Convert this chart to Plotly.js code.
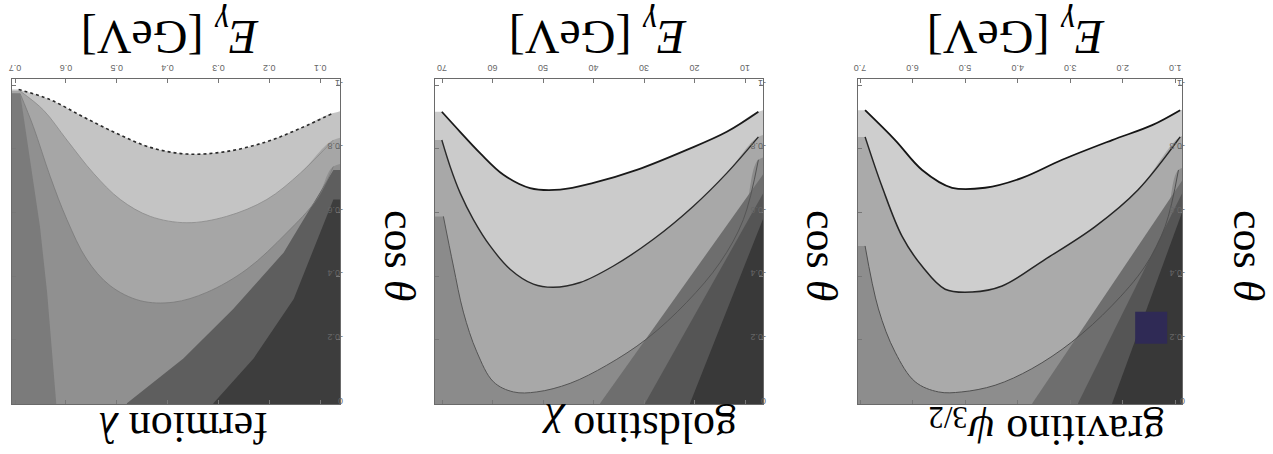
<!DOCTYPE html>
<html>
<head>
<meta charset="utf-8">
<script src="https://cdn.plot.ly/plotly-3.0.1.min.js"></script>
<style>
  html, body { margin: 0; padding: 0; background: #fff; }
  #chart { width: 1273px; height: 454px; }
</style>
</head>
<body>
<div id="chart"></div>
<script>
// Angular photon spectra (E_gamma vs cos theta) as filled contour levels,
// one panel per emitting particle. The figure is printed rotated by 180 degrees.

// ---- fermion λ panel ----
const fermA_E = [0.693, 0.631, 0.566, 0.500, 0.434, 0.362, 0.284, 0.205, 0.139, 0.074];
const fermA_c = [-0.987, -0.955, -0.901, -0.849, -0.805, -0.784, -0.792, -0.823, -0.865, -0.913];
const fermB_E = [0.690, 0.644, 0.598, 0.546, 0.493, 0.434, 0.362, 0.284, 0.205, 0.139, 0.074];
const fermB_c = [-0.982, -0.922, -0.828, -0.724, -0.641, -0.588, -0.568, -0.588, -0.641, -0.724, -0.828];
const fermC_E = [0.690, 0.664, 0.631, 0.598, 0.559, 0.513, 0.454, 0.389, 0.323, 0.244, 0.166, 0.107, 0.074];
const fermC_c = [-0.974, -0.870, -0.714, -0.578, -0.453, -0.370, -0.323, -0.318, -0.349, -0.422, -0.536, -0.641, -0.745];
const fermD_E = [0.690, 0.670, 0.651, 0.637, 0.627, 0.619];
const fermD_c = [-0.975, -0.766, -0.556, -0.350, -0.141, 0.0];
const fermBand1_E = [0.480, 0.369, 0.271, 0.172, 0.074];
const fermBand1_c = [0.0, -0.141, -0.297, -0.474, -0.734];
const fermBand2_E = [0.310, 0.231, 0.152, 0.074];
const fermBand2_c = [0.0, -0.141, -0.328, -0.641];

// ---- goldstino χ panel ----
const gold1_E = [70.05, 66.43, 62.47, 57.85, 52.57, 46.63, 40.03, 31.44, 21.55, 13.62, 7.36];
const gold1_c = [-0.917, -0.854, -0.787, -0.719, -0.677, -0.672, -0.693, -0.734, -0.797, -0.854, -0.917];
const gold2_E = [70.05, 68.41, 66.43, 63.80, 60.49, 56.53, 51.92, 47.96, 42.67, 36.08, 28.16, 20.24, 13.62, 7.36];
const gold2_c = [-0.828, -0.745, -0.662, -0.578, -0.495, -0.422, -0.375, -0.365, -0.380, -0.432, -0.516, -0.620, -0.724, -0.838];
const gold3_E = [69.74, 67.76, 65.78, 63.12, 59.84, 55.88, 51.25, 44.65, 37.38, 29.46, 21.55, 14.95, 10.34, 7.36];
const gold3_c = [-0.588, -0.432, -0.287, -0.162, -0.068, -0.036, -0.036, -0.063, -0.120, -0.203, -0.318, -0.443, -0.578, -0.766];
const goldBand1_E = [38.7, 6.45];
const goldBand1_c = [0.0, -0.72];
const goldBand2_E = [29.8, 6.45];
const goldBand2_c = [0.0, -0.66];
const goldBand3_E = [20.9, 6.45];
const goldBand3_c = [0.0, -0.58];

// ---- gravitino ψ3/2 panel ----
const grav1_E = [6.905, 6.333, 5.819, 5.248, 4.619, 3.914, 3.152, 2.200, 1.438, 0.905];
const grav1_c = [-0.922, -0.828, -0.734, -0.678, -0.678, -0.709, -0.766, -0.828, -0.875, -0.922];
const grav2_E = [6.905, 6.581, 6.200, 5.819, 5.381, 4.867, 4.295, 3.476, 2.524, 1.705, 0.905];
const grav2_c = [-0.838, -0.681, -0.525, -0.431, -0.359, -0.350, -0.369, -0.453, -0.556, -0.672, -0.838];
const grav3_E = [6.905, 6.651, 6.333, 5.952, 5.508, 5.063, 4.429, 3.730, 2.968, 2.206, 1.571, 1.190, 0.937];
const grav3_c = [-0.495, -0.297, -0.161, -0.068, -0.036, -0.036, -0.057, -0.109, -0.193, -0.307, -0.432, -0.557, -0.734];
const gravBand1_E = [3.72, 0.87];
const gravBand1_c = [0.0, -0.70];
const gravBand2_E = [2.85, 0.87];
const gravBand2_c = [0.0, -0.66];
const gravBand3_E = [2.20, 0.87];
const gravBand3_c = [0.0, -0.60];
const gravSpot_E = [1.457];
const gravSpot_c = [-0.2375];

// tick labels
const fermTicks = [0.1, 0.2, 0.3, 0.4, 0.5, 0.6, 0.7];
const goldTicks = [10, 20, 30, 40, 50, 60, 70];
const gravTicks = [1, 2, 3, 4, 5, 6, 7];
const cosTicks = [-1, -0.8, -0.6, -0.4, -0.2, 0];

// panel titles
const panelLabels = ['fermion <i>λ</i>', 'goldstino <i>χ</i>', 'gravitino <i>ψ</i><sub>3/2</sub>'];
const energyTitle = '<i>E</i><sub><i>γ</i></sub> [GeV]';
const angleTitle = 'cos <i>θ</i>';

// E ranges of each frame (drawn high-to-low because of the rotation)
const frames = [
  { lo: 0.061, hi: 0.706, xa: 'x', ya: 'y' },
  { lo: 6.45, hi: 71.4, xa: 'x2', ya: 'y2' },
  { lo: 0.87, hi: 7.04, xa: 'x3', ya: 'y3' }
];

const traces = [];

// region on the cos θ = 0 side of a level curve (smoothed outline)
function levelFill(E, c, f, color) {
  const d = (f.hi - f.lo) * 0.03, n = c.length;
  traces.push({
    x: E.concat([f.lo - d, f.lo - d, f.hi + d, f.hi + d]),
    y: c.concat([c[n - 1], 0.3, 0.3, c[0]]),
    xaxis: f.xa, yaxis: f.ya, mode: 'lines', fill: 'toself', fillcolor: color,
    line: { width: 0, shape: 'spline', smoothing: 1 }, hoverinfo: 'skip'
  });
}
// straight band running from the bottom edge to the low-E edge
function bandFill(E, c, f, color) {
  const d = (f.hi - f.lo) * 0.03, n = c.length;
  traces.push({
    x: E.concat([f.lo - d, f.lo - d, E[0]]),
    y: c.concat([c[n - 1], 0.3, 0.3]),
    xaxis: f.xa, yaxis: f.ya, mode: 'lines', fill: 'toself', fillcolor: color,
    line: { width: 0 }, hoverinfo: 'skip'
  });
}
// strip on the high-E side of a near-vertical level line
function highSideFill(E, c, f, color) {
  const d = (f.hi - f.lo) * 0.03, n = c.length;
  traces.push({
    x: E.concat([E[n - 1], f.hi + d, f.hi + d]),
    y: c.concat([0.3, 0.3, c[0]]),
    xaxis: f.xa, yaxis: f.ya, mode: 'lines', fill: 'toself', fillcolor: color,
    line: { width: 0 }, hoverinfo: 'skip'
  });
}
function levelLine(E, c, f, color, width, dash) {
  traces.push({
    x: E, y: c, xaxis: f.xa, yaxis: f.ya, mode: 'lines',
    line: { color: color, width: width, dash: dash || 'solid', shape: 'spline', smoothing: 1 },
    hoverinfo: 'skip'
  });
}

// fermion λ
levelFill(fermA_E, fermA_c, frames[0], '#c4c4c4');
levelFill(fermB_E, fermB_c, frames[0], '#a6a6a6');
levelFill(fermC_E, fermC_c, frames[0], '#909090');
highSideFill(fermD_E, fermD_c, frames[0], '#7b7b7b');
bandFill(fermBand1_E, fermBand1_c, frames[0], '#5e5e5e');
bandFill(fermBand2_E, fermBand2_c, frames[0], '#3d3d3d');
levelLine(fermA_E, fermA_c, frames[0], '#2a2a2a', 1.6, 'dot');
levelLine(fermB_E, fermB_c, frames[0], '#8a8a8a', 0.8);
levelLine(fermC_E, fermC_c, frames[0], '#7a7a7a', 0.8);

// goldstino χ
levelFill(gold1_E, gold1_c, frames[1], '#cbcbcb');
levelFill(gold2_E, gold2_c, frames[1], '#a8a8a8');
levelFill(gold3_E, gold3_c, frames[1], '#8b8b8b');
bandFill(goldBand1_E, goldBand1_c, frames[1], '#6e6e6e');
bandFill(goldBand2_E, goldBand2_c, frames[1], '#555555');
bandFill(goldBand3_E, goldBand3_c, frames[1], '#393939');
levelLine(gold1_E, gold1_c, frames[1], '#1a1a1a', 1.8);
levelLine(gold2_E, gold2_c, frames[1], '#2a2a2a', 1.4);
levelLine(gold3_E, gold3_c, frames[1], '#555555', 1.0);

// gravitino ψ3/2
levelFill(grav1_E, grav1_c, frames[2], '#cecece');
levelFill(grav2_E, grav2_c, frames[2], '#aaaaaa');
levelFill(grav3_E, grav3_c, frames[2], '#8d8d8d');
bandFill(gravBand1_E, gravBand1_c, frames[2], '#6e6e6e');
bandFill(gravBand2_E, gravBand2_c, frames[2], '#555555');
bandFill(gravBand3_E, gravBand3_c, frames[2], '#383838');
levelLine(grav1_E, grav1_c, frames[2], '#151515', 1.8);
levelLine(grav2_E, grav2_c, frames[2], '#252525', 1.5);
levelLine(grav3_E, grav3_c, frames[2], '#505050', 1.0);
traces.push({
  x: gravSpot_E, y: gravSpot_c, xaxis: 'x3', yaxis: 'y3', mode: 'markers',
  marker: { symbol: 'square', size: 32, color: '#2f2a55', line: { width: 0 } },
  hoverinfo: 'skip'
});

const W = 1273, H = 454;
const px = v => v / W, py = v => 1 - v / H;
const yDom = [py(404), py(79)];

function xAxis(f, dom, ticks, fmt) {
  return {
    domain: dom, range: [f.hi, f.lo], anchor: f.ya, side: 'top',
    tickvals: ticks, ticktext: ticks.map(fmt), tickangle: 180,
    ticks: 'inside', ticklen: 4, tickcolor: '#777', tickwidth: 1,
    tickfont: { family: 'Liberation Sans, Arial, sans-serif', size: 9, color: '#666' },
    showline: true, linecolor: '#6a6a6a', linewidth: 1.2, mirror: 'ticks',
    showgrid: false, zeroline: false, fixedrange: true
  };
}
function yAxis(f) {
  return {
    domain: yDom, range: [0.002, -1.02], anchor: f.xa, side: 'right',
    tickvals: cosTicks, ticktext: cosTicks.map(v => v === 0 ? '0' : v === -1 ? '-1' : v.toFixed(1)),
    tickangle: 180, ticks: 'inside', ticklen: 4, tickcolor: '#777', tickwidth: 1,
    tickfont: { family: 'Liberation Sans, Arial, sans-serif', size: 9, color: '#666' },
    showline: true, linecolor: '#6a6a6a', linewidth: 1.2, mirror: 'ticks',
    showgrid: false, zeroline: false, fixedrange: true
  };
}

const serif = 'Liberation Serif, Times New Roman, serif';
const annotations = [];
const topX = [170, 598, 1016], bottomX = [184, 639, 1047], sideX = [400, 822, 1249];
for (let i = 0; i < 3; i++) {
  annotations.push({
    text: energyTitle, xref: 'paper', yref: 'paper', x: px(topX[i]), y: py(34),
    xanchor: 'center', yanchor: 'middle', textangle: 180, showarrow: false,
    font: { family: serif, size: 48, color: '#000' }
  });
  annotations.push({
    text: panelLabels[i], xref: 'paper', yref: 'paper', x: px(bottomX[i]), y: py(428),
    xanchor: 'center', yanchor: 'middle', textangle: 180, showarrow: false,
    font: { family: serif, size: 44, color: '#000' }
  });
  annotations.push({
    text: angleTitle, xref: 'paper', yref: 'paper', x: px(sideX[i]), y: py(255),
    xanchor: 'center', yanchor: 'middle', textangle: 90, showarrow: false,
    font: { family: serif, size: 44, color: '#000' }
  });
}

const layout = {
  width: W, height: H,
  margin: { l: 0, r: 0, t: 0, b: 0 },
  paper_bgcolor: '#ffffff', plot_bgcolor: '#ffffff',
  showlegend: false,
  xaxis: xAxis(frames[0], [px(12), px(340)], fermTicks, v => v.toFixed(1)),
  xaxis2: xAxis(frames[1], [px(435), px(763)], goldTicks, v => String(v)),
  xaxis3: xAxis(frames[2], [px(858), px(1182)], gravTicks, v => v.toFixed(1)),
  yaxis: yAxis(frames[0]),
  yaxis2: yAxis(frames[1]),
  yaxis3: yAxis(frames[2]),
  annotations: annotations
};

Plotly.newPlot('chart', traces, layout, { displayModeBar: false, staticPlot: true });
</script>
</body>
</html>
